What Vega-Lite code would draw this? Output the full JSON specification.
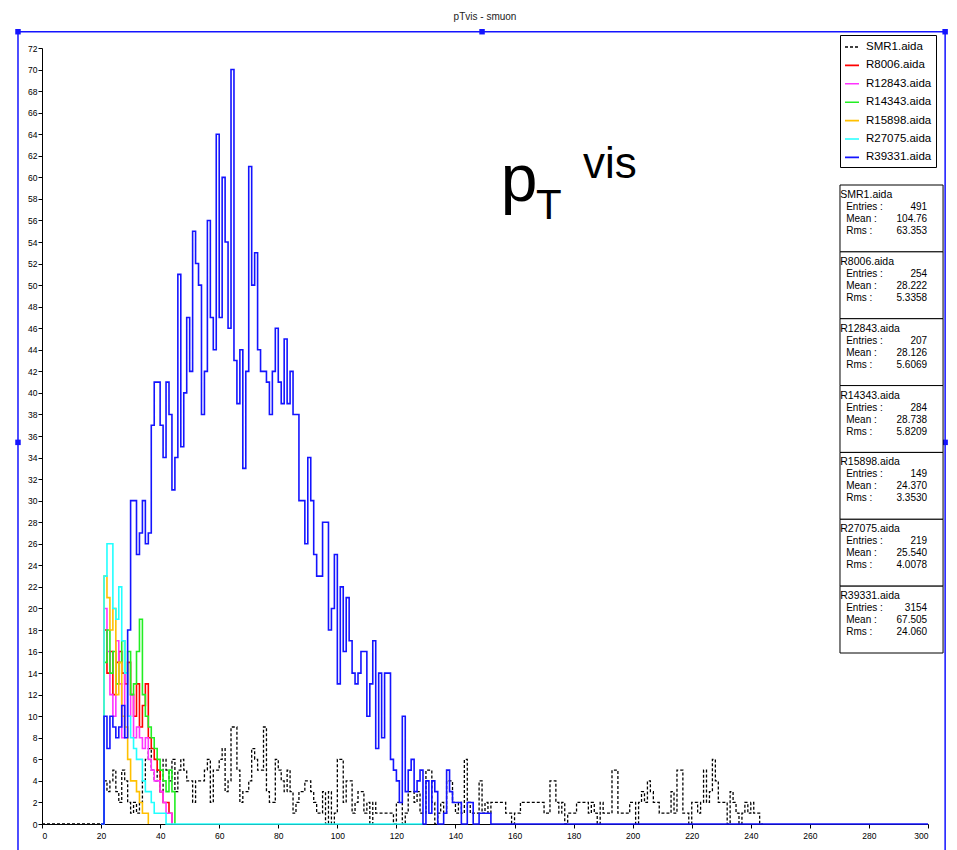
{
  "$schema": "https://vega.github.io/schema/vega-lite/v6.json",
  "width": 886,
  "height": 776,
  "autosize": {"type": "none"},
  "padding": {"left": 42, "top": 48, "right": 29, "bottom": 26},
  "background": "white",
  "title": {"text": "pTvis - smuon", "fontSize": 10, "font": "Liberation Sans", "fontWeight": "normal", "color": "#222222", "offset": -3, "baseline": "bottom", "anchor": "middle", "frame": "group"},
  "config": {
    "view": {"stroke": null},
    "font": "Liberation Sans",
    "axis": {"grid": false, "domainColor": "#000000", "tickColor": "#000000", "labelColor": "#000000", "labelFont": "Liberation Sans", "labelFontSize": 8.5, "tickSize": 4, "title": null, "labelOverlap": false}
  },
  "datasets": {
    "smr1": [{"x":0,"n":0},{"x":21,"n":4},{"x":22,"n":3},{"x":23,"n":4},{"x":24,"n":5},{"x":25,"n":3},{"x":26,"n":2},{"x":27,"n":5},{"x":28,"n":4},{"x":29,"n":2},{"x":30,"n":1},{"x":31,"n":2},{"x":32,"n":1},{"x":33,"n":2},{"x":34,"n":4},{"x":35,"n":6},{"x":36,"n":7},{"x":37,"n":5},{"x":38,"n":4},{"x":39,"n":5},{"x":40,"n":3},{"x":41,"n":6},{"x":42,"n":5},{"x":43,"n":4},{"x":44,"n":6},{"x":45,"n":3},{"x":46,"n":5},{"x":47,"n":6},{"x":48,"n":5},{"x":49,"n":4},{"x":50,"n":4},{"x":51,"n":2},{"x":52,"n":4},{"x":53,"n":4},{"x":54,"n":4},{"x":55,"n":5},{"x":56,"n":6},{"x":57,"n":2},{"x":58,"n":5},{"x":59,"n":5},{"x":60,"n":6},{"x":61,"n":7},{"x":62,"n":3},{"x":63,"n":4},{"x":64,"n":9},{"x":65,"n":9},{"x":66,"n":5},{"x":67,"n":2},{"x":68,"n":3},{"x":69,"n":3},{"x":70,"n":4},{"x":71,"n":7},{"x":72,"n":6},{"x":73,"n":5},{"x":74,"n":5},{"x":75,"n":9},{"x":76,"n":3},{"x":77,"n":2},{"x":78,"n":2},{"x":79,"n":6},{"x":80,"n":5},{"x":81,"n":4},{"x":82,"n":3},{"x":83,"n":5},{"x":84,"n":3},{"x":85,"n":1},{"x":86,"n":2},{"x":87,"n":3},{"x":88,"n":3},{"x":89,"n":4},{"x":90,"n":4},{"x":91,"n":3},{"x":92,"n":2},{"x":93,"n":1},{"x":94,"n":1},{"x":95,"n":3},{"x":96,"n":0},{"x":97,"n":3},{"x":98,"n":0},{"x":99,"n":1},{"x":100,"n":6},{"x":101,"n":6},{"x":102,"n":2},{"x":103,"n":4},{"x":104,"n":4},{"x":105,"n":1},{"x":106,"n":2},{"x":107,"n":3},{"x":108,"n":3},{"x":109,"n":1},{"x":110,"n":2},{"x":111,"n":0},{"x":112,"n":2},{"x":113,"n":1},{"x":114,"n":1},{"x":115,"n":1},{"x":116,"n":1},{"x":117,"n":1},{"x":118,"n":1},{"x":119,"n":0},{"x":120,"n":2},{"x":121,"n":2},{"x":122,"n":0},{"x":123,"n":1},{"x":124,"n":3},{"x":125,"n":3},{"x":126,"n":2},{"x":127,"n":3},{"x":128,"n":1},{"x":129,"n":1},{"x":130,"n":5},{"x":131,"n":5},{"x":132,"n":2},{"x":133,"n":0},{"x":134,"n":1},{"x":135,"n":2},{"x":136,"n":1},{"x":137,"n":4},{"x":138,"n":4},{"x":139,"n":2},{"x":140,"n":1},{"x":141,"n":2},{"x":142,"n":1},{"x":143,"n":6},{"x":144,"n":2},{"x":145,"n":1},{"x":146,"n":1},{"x":147,"n":1},{"x":148,"n":4},{"x":149,"n":1},{"x":150,"n":2},{"x":151,"n":1},{"x":152,"n":2},{"x":153,"n":2},{"x":154,"n":2},{"x":155,"n":2},{"x":156,"n":2},{"x":157,"n":1},{"x":158,"n":1},{"x":159,"n":0},{"x":160,"n":1},{"x":161,"n":1},{"x":162,"n":2},{"x":163,"n":2},{"x":164,"n":2},{"x":165,"n":2},{"x":166,"n":2},{"x":167,"n":2},{"x":168,"n":2},{"x":169,"n":2},{"x":170,"n":1},{"x":171,"n":1},{"x":172,"n":4},{"x":173,"n":4},{"x":174,"n":2},{"x":175,"n":1},{"x":176,"n":2},{"x":177,"n":0},{"x":178,"n":1},{"x":179,"n":1},{"x":180,"n":1},{"x":181,"n":2},{"x":182,"n":2},{"x":183,"n":2},{"x":184,"n":2},{"x":185,"n":1},{"x":186,"n":2},{"x":187,"n":1},{"x":188,"n":0},{"x":189,"n":2},{"x":190,"n":1},{"x":191,"n":1},{"x":192,"n":1},{"x":193,"n":5},{"x":194,"n":5},{"x":195,"n":1},{"x":196,"n":1},{"x":197,"n":1},{"x":198,"n":1},{"x":199,"n":2},{"x":200,"n":2},{"x":201,"n":0},{"x":202,"n":2},{"x":203,"n":3},{"x":204,"n":2},{"x":205,"n":4},{"x":206,"n":3},{"x":207,"n":2},{"x":208,"n":2},{"x":209,"n":1},{"x":210,"n":1},{"x":211,"n":1},{"x":212,"n":1},{"x":213,"n":3},{"x":214,"n":1},{"x":215,"n":5},{"x":216,"n":5},{"x":217,"n":1},{"x":218,"n":1},{"x":219,"n":0},{"x":220,"n":2},{"x":221,"n":2},{"x":222,"n":1},{"x":223,"n":2},{"x":224,"n":5},{"x":225,"n":2},{"x":226,"n":3},{"x":227,"n":6},{"x":228,"n":4},{"x":229,"n":2},{"x":230,"n":2},{"x":231,"n":2},{"x":232,"n":0},{"x":233,"n":3},{"x":234,"n":2},{"x":235,"n":1},{"x":236,"n":0},{"x":237,"n":1},{"x":238,"n":2},{"x":239,"n":1},{"x":240,"n":2},{"x":241,"n":1},{"x":242,"n":1},{"x":243,"n":0},{"x":244,"n":0}],
    "r8006": [{"x":20,"n":0},{"x":21,"n":18},{"x":22,"n":14},{"x":23,"n":16},{"x":24,"n":12},{"x":25,"n":15},{"x":26,"n":16},{"x":27,"n":14},{"x":28,"n":13},{"x":29,"n":15},{"x":30,"n":12},{"x":31,"n":10},{"x":32,"n":13},{"x":33,"n":9},{"x":34,"n":11},{"x":35,"n":13},{"x":36,"n":8},{"x":37,"n":7},{"x":38,"n":6},{"x":39,"n":5},{"x":40,"n":3},{"x":41,"n":2},{"x":42,"n":2},{"x":43,"n":1},{"x":44,"n":0}],
    "r12843": [{"x":20,"n":0},{"x":21,"n":20},{"x":22,"n":16},{"x":23,"n":12},{"x":24,"n":10},{"x":25,"n":17},{"x":26,"n":13},{"x":27,"n":8},{"x":28,"n":14},{"x":29,"n":10},{"x":30,"n":12},{"x":31,"n":8},{"x":32,"n":9},{"x":33,"n":8},{"x":34,"n":7},{"x":35,"n":8},{"x":36,"n":6},{"x":37,"n":5},{"x":38,"n":4},{"x":39,"n":4},{"x":40,"n":3},{"x":41,"n":2},{"x":42,"n":1},{"x":43,"n":1},{"x":44,"n":0}],
    "r14343": [{"x":20,"n":0},{"x":21,"n":15},{"x":22,"n":18},{"x":23,"n":14},{"x":24,"n":16},{"x":25,"n":13},{"x":26,"n":15},{"x":27,"n":17},{"x":28,"n":14},{"x":29,"n":16},{"x":30,"n":12},{"x":31,"n":13},{"x":32,"n":16},{"x":33,"n":19},{"x":34,"n":12},{"x":35,"n":10},{"x":36,"n":9},{"x":37,"n":8},{"x":38,"n":7},{"x":39,"n":6},{"x":40,"n":5},{"x":41,"n":4},{"x":42,"n":3},{"x":43,"n":5},{"x":44,"n":3},{"x":45,"n":0}],
    "r15898": [{"x":20,"n":0},{"x":21,"n":23},{"x":22,"n":21},{"x":23,"n":18},{"x":24,"n":20},{"x":25,"n":12},{"x":26,"n":15},{"x":27,"n":10},{"x":28,"n":9},{"x":29,"n":6},{"x":30,"n":4},{"x":31,"n":4},{"x":32,"n":3},{"x":33,"n":2},{"x":34,"n":1},{"x":35,"n":1},{"x":36,"n":0}],
    "r27075": [{"x":20,"n":0},{"x":21,"n":23},{"x":22,"n":26},{"x":23,"n":26},{"x":24,"n":20},{"x":25,"n":19},{"x":26,"n":22},{"x":27,"n":17},{"x":28,"n":14},{"x":29,"n":10},{"x":30,"n":8},{"x":31,"n":7},{"x":32,"n":6},{"x":33,"n":6},{"x":34,"n":4},{"x":35,"n":3},{"x":36,"n":3},{"x":37,"n":2},{"x":38,"n":1},{"x":39,"n":1},{"x":40,"n":1},{"x":41,"n":1},{"x":42,"n":0},{"x":129,"n":0}],
    "r39331": [{"x":20,"n":0},{"x":21,"n":10},{"x":22,"n":7},{"x":23,"n":10},{"x":24,"n":9},{"x":25,"n":8},{"x":26,"n":9},{"x":27,"n":11},{"x":28,"n":8},{"x":29,"n":18},{"x":30,"n":30},{"x":31,"n":30},{"x":32,"n":25},{"x":33,"n":27},{"x":34,"n":30},{"x":35,"n":26},{"x":36,"n":27},{"x":37,"n":37},{"x":38,"n":41},{"x":39,"n":41},{"x":40,"n":37},{"x":41,"n":34},{"x":42,"n":41},{"x":43,"n":38},{"x":44,"n":31},{"x":45,"n":34},{"x":46,"n":51},{"x":47,"n":35},{"x":48,"n":40},{"x":49,"n":47},{"x":50,"n":42},{"x":51,"n":55},{"x":52,"n":52},{"x":53,"n":50},{"x":54,"n":38},{"x":55,"n":42},{"x":56,"n":56},{"x":57,"n":47},{"x":58,"n":44},{"x":59,"n":64},{"x":60,"n":47},{"x":61,"n":60},{"x":62,"n":54},{"x":63,"n":46},{"x":64,"n":70},{"x":65,"n":43},{"x":66,"n":39},{"x":67,"n":44},{"x":68,"n":33},{"x":69,"n":42},{"x":70,"n":61},{"x":71,"n":50},{"x":72,"n":53},{"x":73,"n":44},{"x":74,"n":42},{"x":75,"n":42},{"x":76,"n":41},{"x":77,"n":38},{"x":78,"n":42},{"x":79,"n":46},{"x":80,"n":41},{"x":81,"n":39},{"x":82,"n":45},{"x":83,"n":39},{"x":84,"n":42},{"x":85,"n":38},{"x":86,"n":38},{"x":87,"n":30},{"x":88,"n":30},{"x":89,"n":26},{"x":90,"n":34},{"x":91,"n":30},{"x":92,"n":25},{"x":93,"n":23},{"x":94,"n":23},{"x":95,"n":28},{"x":96,"n":28},{"x":97,"n":18},{"x":98,"n":20},{"x":99,"n":25},{"x":100,"n":13},{"x":101,"n":22},{"x":102,"n":16},{"x":103,"n":21},{"x":104,"n":17},{"x":105,"n":14},{"x":106,"n":13},{"x":107,"n":14},{"x":108,"n":16},{"x":109,"n":16},{"x":110,"n":10},{"x":111,"n":13},{"x":112,"n":17},{"x":113,"n":7},{"x":114,"n":14},{"x":115,"n":8},{"x":116,"n":14},{"x":117,"n":14},{"x":118,"n":6},{"x":119,"n":5},{"x":120,"n":4},{"x":121,"n":2},{"x":122,"n":10},{"x":123,"n":3},{"x":124,"n":5},{"x":125,"n":6},{"x":126,"n":3},{"x":127,"n":4},{"x":128,"n":5},{"x":129,"n":0},{"x":130,"n":4},{"x":131,"n":1},{"x":132,"n":4},{"x":133,"n":3},{"x":134,"n":0},{"x":135,"n":0},{"x":136,"n":1},{"x":137,"n":5},{"x":138,"n":3},{"x":139,"n":2},{"x":140,"n":2},{"x":141,"n":2},{"x":142,"n":0},{"x":143,"n":0},{"x":144,"n":2},{"x":145,"n":2},{"x":146,"n":0},{"x":147,"n":0},{"x":148,"n":1},{"x":149,"n":1},{"x":150,"n":1},{"x":151,"n":1},{"x":152,"n":0},{"x":300,"n":0}],
    "stats": [
      {"s":"SMR1.aida","entries":491,"mean":104.76,"rms":63.353},
      {"s":"R8006.aida","entries":254,"mean":28.222,"rms":5.3358},
      {"s":"R12843.aida","entries":207,"mean":28.126,"rms":5.6069},
      {"s":"R14343.aida","entries":284,"mean":28.738,"rms":5.8209},
      {"s":"R15898.aida","entries":149,"mean":24.370,"rms":3.3530},
      {"s":"R27075.aida","entries":219,"mean":25.540,"rms":4.0078},
      {"s":"R39331.aida","entries":3154,"mean":67.505,"rms":24.060}
    ]
  },
  "layer": [
    {
      "layer": [
        {
          "data": {"values": [{}]},
          "mark": {"type": "rect", "fill": null, "stroke": "#1414ff", "strokeWidth": 1.5},
          "encoding": {
            "x": {"datum": -8.13, "type": "quantitative", "scale": {"domain": [0, 300], "nice": false, "zero": false}, "axis": {"values": [0,20,40,60,80,100,120,140,160,180,200,220,240,260,280,300], "tickCount": 40, "labelPadding": 3, "labelOverlap": false}},
            "x2": {"datum": 305.8},
            "y": {"datum": 73.51, "type": "quantitative", "scale": {"domain": [0, 72], "nice": false, "zero": false}, "axis": {"values": [0,2,4,6,8,10,12,14,16,18,20,22,24,26,28,30,32,34,36,38,40,42,44,46,48,50,52,54,56,58,60,62,64,66,68,70,72], "tickCount": 80, "labelPadding": 1, "labelOverlap": false}},
            "y2": {"datum": -4}
          }
        },
        {"data": {"values": [{}]}, "mark": {"type": "square", "filled": true, "color": "#1414ff", "size": 30, "opacity": 1}, "encoding": {"x": {"datum": -8.13, "type": "quantitative"}, "y": {"datum": 73.51, "type": "quantitative"}}},
        {"data": {"values": [{}]}, "mark": {"type": "square", "filled": true, "color": "#1414ff", "size": 30, "opacity": 1}, "encoding": {"x": {"datum": 149.0, "type": "quantitative"}, "y": {"datum": 73.51, "type": "quantitative"}}},
        {"data": {"values": [{}]}, "mark": {"type": "square", "filled": true, "color": "#1414ff", "size": 30, "opacity": 1}, "encoding": {"x": {"datum": 305.8, "type": "quantitative"}, "y": {"datum": 73.51, "type": "quantitative"}}},
        {"data": {"values": [{}]}, "mark": {"type": "square", "filled": true, "color": "#1414ff", "size": 30, "opacity": 1}, "encoding": {"x": {"datum": -8.13, "type": "quantitative"}, "y": {"datum": 35.41, "type": "quantitative"}}},
        {"data": {"values": [{}]}, "mark": {"type": "square", "filled": true, "color": "#1414ff", "size": 30, "opacity": 1}, "encoding": {"x": {"datum": 305.8, "type": "quantitative"}, "y": {"datum": 35.41, "type": "quantitative"}}},
        {
          "data": {"name": "smr1"},
          "mark": {"type": "line", "interpolate": "step-after", "strokeWidth": 1.3, "strokeDash": [3, 2]},
          "encoding": {
            "x": {"field": "x", "type": "quantitative"},
            "y": {"field": "n", "type": "quantitative", "axis": {"values": [0,2,4,6,8,10,12,14,16,18,20,22,24,26,28,30,32,34,36,38,40,42,44,46,48,50,52,54,56,58,60,62,64,66,68,70,72], "tickCount": 80, "labelPadding": 1, "labelOverlap": false}},
            "color": {
              "datum": "SMR1.aida",
              "scale": {"domain": ["SMR1.aida","R8006.aida","R12843.aida","R14343.aida","R15898.aida","R27075.aida","R39331.aida"], "range": ["#000000","#ff0000","#ff33ff","#22ee22","#ffc000","#22ffff","#1414ff"]},
              "legend": {
                "title": null, "orient": "none", "legendX": 798, "legendY": -13,
                "symbolType": "stroke", "symbolSize": 196, "symbolStrokeWidth": 1.6,
                "labelFont": "Liberation Sans", "labelFontSize": 11.5, "labelColor": "#000000", "labelOffset": 6,
                "padding": 4, "rowPadding": 4.4, "strokeColor": "#000000", "fillColor": "#ffffff",
                "encode": {"symbols": {"update": {"strokeDash": {"signal": "datum.value === 'SMR1.aida' ? [3, 2] : [1, 0]"}}}}
              }
            }
          }
        },
        {"data": {"name": "r8006"}, "mark": {"type": "line", "interpolate": "step-after", "strokeWidth": 1.6}, "encoding": {"x": {"field": "x", "type": "quantitative"}, "y": {"field": "n", "type": "quantitative"}, "color": {"datum": "R8006.aida"}}},
        {"data": {"name": "r12843"}, "mark": {"type": "line", "interpolate": "step-after", "strokeWidth": 1.6}, "encoding": {"x": {"field": "x", "type": "quantitative"}, "y": {"field": "n", "type": "quantitative"}, "color": {"datum": "R12843.aida"}}},
        {"data": {"name": "r14343"}, "mark": {"type": "line", "interpolate": "step-after", "strokeWidth": 1.6}, "encoding": {"x": {"field": "x", "type": "quantitative"}, "y": {"field": "n", "type": "quantitative"}, "color": {"datum": "R14343.aida"}}},
        {"data": {"name": "r15898"}, "mark": {"type": "line", "interpolate": "step-after", "strokeWidth": 1.6}, "encoding": {"x": {"field": "x", "type": "quantitative"}, "y": {"field": "n", "type": "quantitative"}, "color": {"datum": "R15898.aida"}}},
        {"data": {"name": "r27075"}, "mark": {"type": "line", "interpolate": "step-after", "strokeWidth": 1.6}, "encoding": {"x": {"field": "x", "type": "quantitative"}, "y": {"field": "n", "type": "quantitative"}, "color": {"datum": "R27075.aida"}}},
        {"data": {"name": "r39331"}, "mark": {"type": "line", "interpolate": "step-after", "strokeWidth": 1.6}, "encoding": {"x": {"field": "x", "type": "quantitative"}, "y": {"field": "n", "type": "quantitative"}, "color": {"datum": "R39331.aida"}}},
        {"data": {"values": [{}]}, "mark": {"type": "text", "text": "p", "font": "Liberation Sans", "fontSize": 66, "align": "left", "baseline": "alphabetic", "color": "#000000"}, "encoding": {"x": {"datum": 155.3, "type": "quantitative"}, "y": {"datum": 57.8, "type": "quantitative"}}},
        {"data": {"values": [{}]}, "mark": {"type": "text", "text": "T", "font": "Liberation Sans", "fontSize": 42, "align": "left", "baseline": "alphabetic", "color": "#000000"}, "encoding": {"x": {"datum": 167.3, "type": "quantitative"}, "y": {"datum": 56.1, "type": "quantitative"}}},
        {"data": {"values": [{}]}, "mark": {"type": "text", "text": "vis", "font": "Liberation Sans", "fontSize": 44, "align": "left", "baseline": "alphabetic", "color": "#000000"}, "encoding": {"x": {"datum": 183.2, "type": "quantitative"}, "y": {"datum": 59.9, "type": "quantitative"}}}
      ]
    },
    {
      "data": {"name": "stats"},
      "layer": [
        {
          "mark": {"type": "rect", "fill": "#ffffff", "stroke": "#000000", "strokeWidth": 1},
          "encoding": {
            "x": {"datum": 270.2, "type": "quantitative"},
            "x2": {"datum": 305.1},
            "y": {"field": "s", "type": "nominal", "sort": null, "axis": null, "scale": {"type": "band", "domain": ["SMR1.aida","R8006.aida","R12843.aida","R14343.aida","R15898.aida","R27075.aida","R39331.aida"], "range": [137, 605], "paddingInner": 0, "paddingOuter": 0}}
          }
        },
        {
          "mark": {"type": "text", "align": "left", "baseline": "top", "dy": 5, "font": "Liberation Sans", "fontSize": 10.5, "color": "#000000"},
          "encoding": {
            "x": {"datum": 270.3, "type": "quantitative"},
            "y": {"field": "s", "type": "nominal", "sort": null, "bandPosition": 0, "axis": null},
            "text": {"field": "s"}
          }
        },
        {
          "mark": {"type": "text", "align": "left", "baseline": "top", "dy": 17, "lineHeight": 12, "font": "Liberation Sans", "fontSize": 10, "color": "#000000", "text": ["Entries :", "Mean :", "Rms :"]},
          "encoding": {
            "x": {"datum": 272.3, "type": "quantitative"},
            "y": {"field": "s", "type": "nominal", "sort": null, "bandPosition": 0, "axis": null}
          }
        },
        {
          "mark": {"type": "text", "align": "right", "baseline": "top", "dy": 17, "font": "Liberation Sans", "fontSize": 10, "color": "#000000"},
          "encoding": {
            "x": {"datum": 299.7, "type": "quantitative"},
            "y": {"field": "s", "type": "nominal", "sort": null, "bandPosition": 0, "axis": null},
            "text": {"field": "entries", "type": "quantitative", "format": "d"}
          }
        },
        {
          "mark": {"type": "text", "align": "right", "baseline": "top", "dy": 29, "font": "Liberation Sans", "fontSize": 10, "color": "#000000"},
          "encoding": {
            "x": {"datum": 299.7, "type": "quantitative"},
            "y": {"field": "s", "type": "nominal", "sort": null, "bandPosition": 0, "axis": null},
            "text": {"field": "mean", "type": "quantitative", "format": ".5r"}
          }
        },
        {
          "mark": {"type": "text", "align": "right", "baseline": "top", "dy": 41, "font": "Liberation Sans", "fontSize": 10, "color": "#000000"},
          "encoding": {
            "x": {"datum": 299.7, "type": "quantitative"},
            "y": {"field": "s", "type": "nominal", "sort": null, "bandPosition": 0, "axis": null},
            "text": {"field": "rms", "type": "quantitative", "format": ".5r"}
          }
        }
      ]
    }
  ],
  "resolve": {"scale": {"y": "independent"}}
}
